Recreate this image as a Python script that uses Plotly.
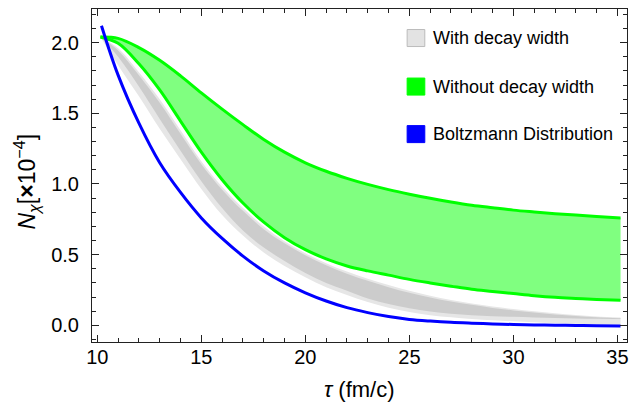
import plotly.graph_objects as go

# ---- data ----
tau = [10.15, 11, 12, 13, 14, 15, 16, 17, 18, 19, 20, 21, 22, 23, 24, 25, 26,
       27, 28, 29, 30, 31, 32, 33, 34, 35.15]

green_upper = [2.04, 2.03, 1.965, 1.875, 1.765, 1.645, 1.53, 1.42, 1.315, 1.225, 1.15, 1.09, 1.04,
               0.997, 0.96, 0.928, 0.899, 0.873, 0.85, 0.832, 0.815, 0.802, 0.79, 0.78, 0.77, 0.76]
green_lower = [2.04, 1.995, 1.85, 1.665, 1.445, 1.225, 1.03, 0.865, 0.73, 0.62, 0.535, 0.47, 0.42,
               0.385, 0.355, 0.325, 0.30, 0.277, 0.255, 0.24, 0.225, 0.21, 0.198, 0.19, 0.183, 0.177]

gray_light_upper = [2.04, 1.96, 1.79, 1.60, 1.38, 1.16, 0.98, 0.83, 0.70, 0.595, 0.51, 0.44, 0.38,
                    0.33, 0.285, 0.245, 0.21, 0.18, 0.155, 0.133, 0.115, 0.099, 0.085, 0.073, 0.063, 0.055]
gray_dark_upper = [2.04, 1.945, 1.77, 1.575, 1.355, 1.14, 0.96, 0.81, 0.68, 0.58, 0.495, 0.425, 0.365,
                   0.315, 0.27, 0.23, 0.197, 0.168, 0.145, 0.123, 0.105, 0.09, 0.077, 0.066, 0.057, 0.05]
gray_dark_lower = [2.04, 1.90, 1.69, 1.46, 1.235, 1.02, 0.83, 0.67, 0.55, 0.455, 0.37, 0.30, 0.245,
                   0.19, 0.15, 0.12, 0.097, 0.082, 0.072, 0.065, 0.06, 0.056, 0.052, 0.049, 0.047, 0.045]
gray_light_lower = [2.04, 1.84, 1.62, 1.39, 1.175, 0.965, 0.78, 0.635, 0.515, 0.42, 0.34, 0.27, 0.215,
                    0.165, 0.125, 0.095, 0.072, 0.057, 0.045, 0.035, 0.028, 0.022, 0.016, 0.011, 0.008, 0.005]

tau_blue = [10.2, 11, 12, 13, 14, 15, 16, 17, 18, 19, 20, 21, 22, 23, 24, 25, 26,
            27, 28, 29, 30, 31, 32, 33, 34, 35.15]
boltzmann = [2.12, 1.77, 1.43, 1.15, 0.94, 0.76, 0.615, 0.49, 0.385, 0.30, 0.23, 0.172, 0.125,
             0.09, 0.062, 0.042, 0.03, 0.021, 0.015, 0.01, 0.006, 0.003, 0.001, -0.001, -0.003, -0.005]

legend_labels = ["With decay width", "Without decay width", "Boltzmann Distribution"]
legend_colors = ["#e3e3e3", "#00ff00", "#0000ff"]

x_ticks = [10, 15, 20, 25, 30, 35]
y_ticks = [0.0, 0.5, 1.0, 1.5, 2.0]

FONT = "Liberation Sans, Arial, sans-serif"
W, H = 629, 408
L, R, T, B = 91.7, 1.5, 9.0, 66.3
PW, PH = W - L - R, H - T - B

def px(xp):
    return (xp - L) / PW

def py(yp):
    return (H - B - yp) / PH

fig = go.Figure()

def band(lower, upper, color):
    fig.add_trace(go.Scatter(x=tau, y=lower, mode="lines", line=dict(width=0, shape="spline", color=color),
                             showlegend=False, hoverinfo="skip"))
    fig.add_trace(go.Scatter(x=tau, y=upper, mode="lines", line=dict(width=0, shape="spline", color=color),
                             fill="tonexty", fillcolor=color, showlegend=False, hoverinfo="skip"))

band(gray_light_lower, gray_light_upper, "#e6e6e6")
band(gray_dark_lower, gray_dark_upper, "#cccccc")
band(green_lower, green_upper, "#80ff80")

for ys in (green_lower, green_upper):
    fig.add_trace(go.Scatter(x=tau, y=ys, mode="lines", line=dict(width=3, color="#00ff00", shape="spline"),
                             showlegend=False))

fig.add_trace(go.Scatter(x=tau_blue, y=boltzmann, mode="lines",
                         line=dict(width=3, color="#0000ff", shape="spline"), showlegend=False))

# manual legend
centers = [38, 86.5, 134]
for lab, col, cy in zip(legend_labels, legend_colors, centers):
    fig.add_shape(type="rect", xref="paper", yref="paper",
                  x0=px(407.3), x1=px(425), y0=py(cy + 8.5), y1=py(cy - 8.5),
                  fillcolor=col, line=dict(color="#bbbbbb" if col == "#e3e3e3" else col, width=1))
    fig.add_annotation(xref="paper", yref="paper", x=px(431.5), y=py(cy), text=lab,
                       showarrow=False, xanchor="left", yanchor="middle",
                       font=dict(family=FONT, size=18, color="black"))

# axis labels
fig.add_annotation(xref="paper", yref="paper", x=0.5, y=py(389), text="<i>τ</i> (fm/c)",
                   showarrow=False, xanchor="center", yanchor="middle",
                   font=dict(family=FONT, size=22, color="black"))
fig.add_annotation(xref="paper", yref="paper", x=px(26), y=py(181),
                   text="<i>N</i><sub><i>χ</i></sub>[<b>×</b>10<sup>−4</sup>]",
                   textangle=-90, showarrow=False, xanchor="center", yanchor="middle",
                   font=dict(family=FONT, size=23, color="black"))

axis_common = dict(showline=True, linecolor="#222222", linewidth=1, mirror="allticks",
                   ticks="inside", ticklen=7, tickwidth=1, tickcolor="#222222",
                   showgrid=False, zeroline=False,
                   tickfont=dict(family=FONT, size=20, color="black"))

fig.update_xaxes(range=[9.745, 35.46], tickvals=x_ticks, ticktext=[str(v) for v in x_ticks],
                 minor=dict(ticks="inside", ticklen=4, dtick=1, tick0=10, tickcolor="#222222", showgrid=False),
                 ticklabelstandoff=-3, **axis_common)
fig.update_yaxes(range=[-0.118, 2.238], tickvals=y_ticks, ticktext=[f"{v:.1f}" for v in y_ticks],
                 minor=dict(ticks="inside", ticklen=4, dtick=0.1, tick0=0, tickcolor="#222222", showgrid=False),
                 ticklabelstandoff=8, **axis_common)

fig.update_layout(width=W, height=H, margin=dict(l=L, r=R, t=T, b=B, pad=0),
                  plot_bgcolor="white", paper_bgcolor="white")

fig.write_html("out.html", config={"displayModeBar": False},
               post_script="document.body.style.margin='0px';")
